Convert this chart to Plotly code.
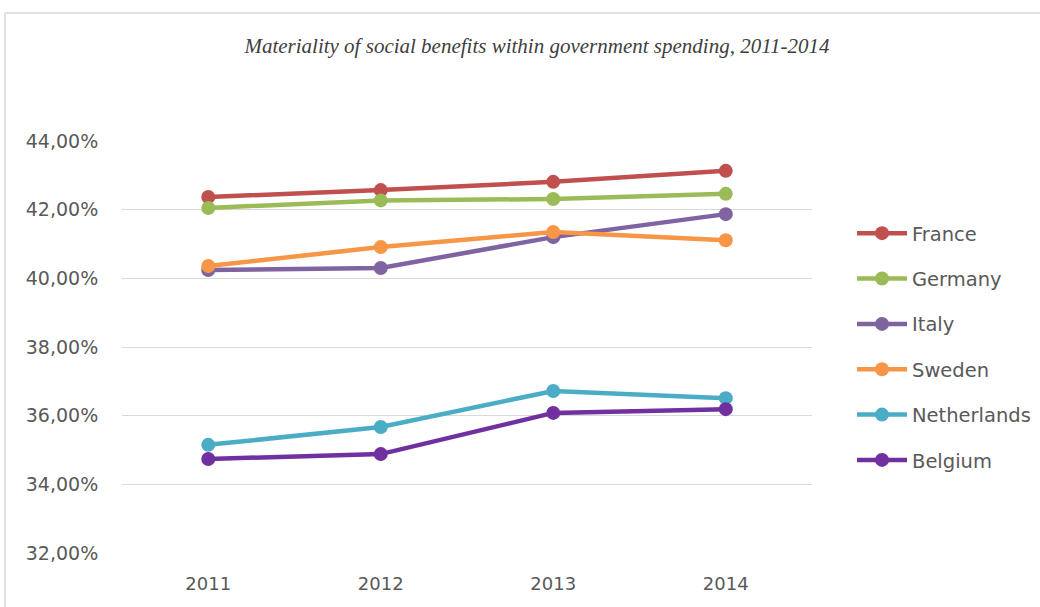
import plotly.graph_objects as go

years = ["2011", "2012", "2013", "2014"]
france = [42.37, 42.57, 42.81, 43.13]
germany = [42.05, 42.27, 42.31, 42.46]
italy = [40.24, 40.30, 41.20, 41.87]
sweden = [40.36, 40.91, 41.35, 41.11]
netherlands = [35.15, 35.67, 36.72, 36.51]
belgium = [34.74, 34.88, 36.08, 36.19]

series = [
    ("France", france, "#C0504D"),
    ("Germany", germany, "#9BBB59"),
    ("Italy", italy, "#8064A2"),
    ("Sweden", sweden, "#F79646"),
    ("Netherlands", netherlands, "#4BACC6"),
    ("Belgium", belgium, "#7030A0"),
]

fig = go.Figure()
for name, vals, col in series:
    fig.add_trace(go.Scatter(
        x=years, y=vals, name=name, mode="lines+markers",
        line=dict(color=col, width=4.5),
        marker=dict(color=col, size=14),
        legendgroup=name,
    ))

W, H = 1040, 607
L, R, T, B = 122, 228, 141, 54
pw, ph = W - L - R, H - T - B

def px(x):
    return (x - L) / pw

def py(y):
    return (H - B - y) / ph

fig.add_shape(type="path", xref="paper", yref="paper",
              path=f"M {px(5)},{py(640)} L {px(5)},{py(13)} L {px(1100)},{py(13)}",
              line=dict(color="#D9D9D9", width=1.5))

FONT = "DejaVu Sans"
fig.update_layout(
    width=W, height=H,
    margin=dict(l=L, r=R, t=T, b=B, autoexpand=False),
    paper_bgcolor="white", plot_bgcolor="white",
    separators=",.",
    title=dict(text="<i>Materiality of social benefits within government spending, 2011-2014</i>",
               xref="container", x=537 / W, xanchor="center", y=1 - 46 / H, yanchor="middle",
               font=dict(family="Liberation Serif", size=21, color="#404040")),
    xaxis=dict(type="category", range=[-0.5, 3.5], showgrid=False, zeroline=False,
               showline=False, ticks="outside", ticklen=14, tickcolor="rgba(0,0,0,0)",
               tickfont=dict(family=FONT, size=18, color="#595959")),
    yaxis=dict(range=[32, 44], dtick=2, tickformat=".2f", ticksuffix="%",
               showgrid=True, gridcolor="#D9D9D9", gridwidth=1.3, zeroline=False,
               showline=False, ticks="outside", ticklen=19, tickcolor="rgba(0,0,0,0)",
               tickfont=dict(family=FONT, size=19, color="#595959")),
    legend=dict(x=px(852), xanchor="left", y=py(214), yanchor="top",
                font=dict(family=FONT, size=19.5, color="#595959"),
                tracegroupgap=17, itemwidth=50, bgcolor="rgba(0,0,0,0)"),
    showlegend=True,
)

fig.write_html("out.html")
